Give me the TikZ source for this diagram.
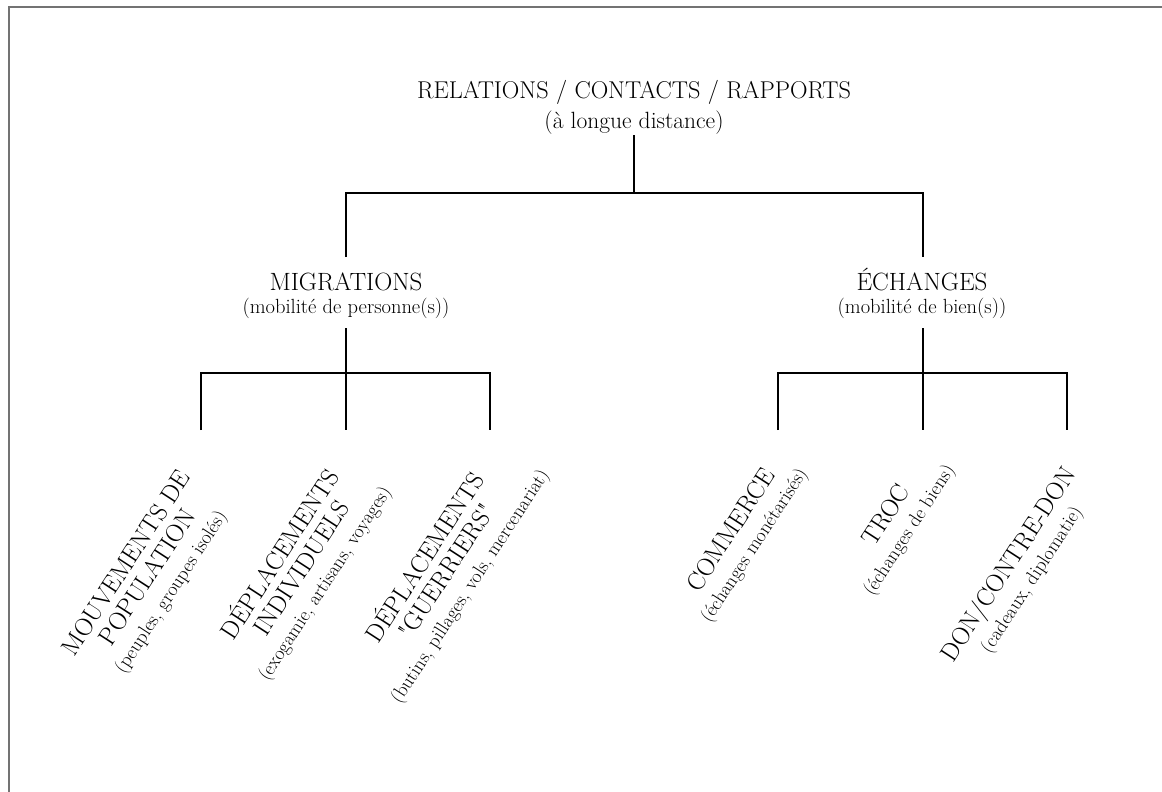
\documentclass[tikz,border=0pt]{standalone}
\usepackage{fontspec}
\setmainfont{Latin Modern Roman}[Ligatures=TeXOff]
\newcommand\leafsub{\fontsize{19.5}{23}\selectfont}
\begin{document}
\begin{tikzpicture}[x=1pt,y=1pt,
  conn/.style={line width=1.5pt, black},
  frame/.style={line width=1.6pt, black!55},
  big/.style={font=\fontsize{24.3}{28}\selectfont, inner sep=0pt},
  bigsub/.style={font=\fontsize{23.5}{28}\selectfont, inner sep=0pt},
  mid/.style={font=\fontsize{25}{28}\selectfont, inner sep=0pt},
  sub/.style={font=\fontsize{20.5}{24}\selectfont, inner sep=0pt},
  leaf/.style={rotate=57, align=center, inner sep=0pt, font=\fontsize{25}{25.5}\selectfont},
]
\useasboundingbox (0,0) rectangle (1162,-792);
\draw[frame] (9,-792) -- (9,-7) -- (1162,-7);

% level 0
\node[big, anchor=base] (root) at (634,-98) {RELATIONS / CONTACTS / RAPPORTS};
\node[bigsub, anchor=base] (rootsub) at (634,-128) {(à longue distance)};
% level 1
\node[mid, anchor=base] (mig) at (346,-290) {MIGRATIONS};
\node[sub, anchor=base] (migsub) at (346,-313) {(mobilité de personne(s))};
\node[mid, anchor=base] (ech) at (922,-290) {ÉCHANGES};
\node[sub, anchor=base] (echsub) at (922,-313) {(mobilité de bien(s))};
% leaves
\node[leaf] (l1) at (149,-578) {MOUVEMENTS DE\\POPULATION\\{\leafsub (peuples, groupes isolés)}};
\node[leaf] (l2) at (301,-568) {DÉPLACEMENTS\\INDIVIDUELS\\{\leafsub (exogamie, artisans, voyages)}};
\node[leaf] (l3) at (446,-571) {DÉPLACEMENTS\\"GUERRIERS"\\{\leafsub (butins, pillages, vols, mercenariat)}};
\node[leaf] (l4) at (743,-538) {COMMERCE\\{\leafsub (échanges monétarisés)}};
\node[leaf] (l5) at (898,-523) {TROC\\{\leafsub (échanges de biens)}};
\node[leaf] (l6) at (1020,-572) {DON/CONTRE-DON\\{\leafsub (cadeaux, diplomatie)}};

% junction coordinates
\coordinate (r0) at (634,-135);
\coordinate (r1) at (634,-193);
\coordinate (rl) at (346,-193);
\coordinate (rr) at (923,-193);
\coordinate (rlend) at (346,-257);
\coordinate (rrend) at (923,-257);
\coordinate (m0) at (346,-328);
\coordinate (mj) at (346,-373);
\coordinate (ml) at (201,-373);
\coordinate (mr) at (490,-373);
\coordinate (m1end) at (201,-430);
\coordinate (m2end) at (346,-430);
\coordinate (m3end) at (490,-430);
\coordinate (e0) at (923,-328);
\coordinate (ej) at (923,-373);
\coordinate (el) at (778,-373);
\coordinate (er) at (1067,-373);
\coordinate (e1end) at (778,-430);
\coordinate (e2end) at (923,-430);
\coordinate (e3end) at (1067,-430);

\draw[conn] (r0) -- (r1);
\draw[conn] (rlend) -- (rl) -- (rr) -- (rrend);
\draw[conn] (m0) -- (m2end);
\draw[conn] (m1end) -- (ml) -- (mr) -- (m3end);
\draw[conn] (e0) -- (e2end);
\draw[conn] (e1end) -- (el) -- (er) -- (e3end);
\end{tikzpicture}
\end{document}
